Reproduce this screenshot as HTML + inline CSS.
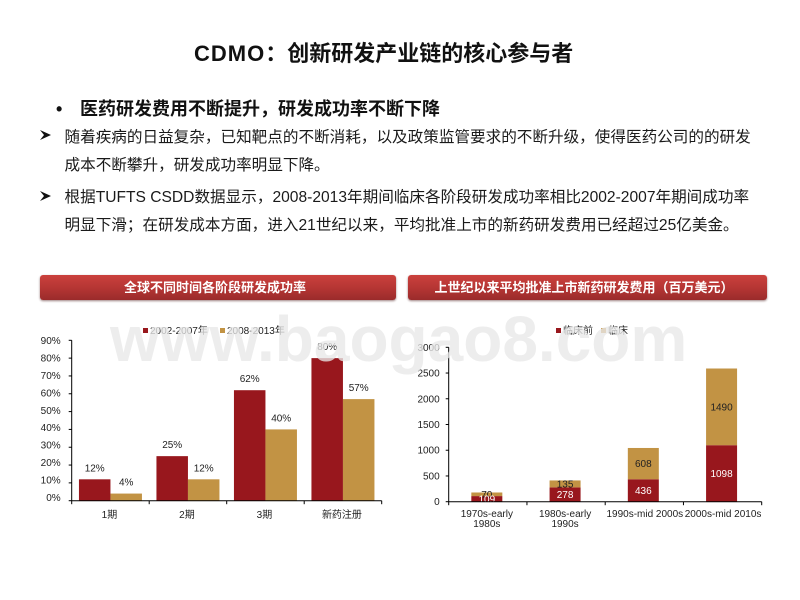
<!DOCTYPE html>
<html lang="zh-CN">
<head>
<meta charset="utf-8">
<title>CDMO：创新研发产业链的核心参与者</title>
<style>
html,body{margin:0;padding:0;background:#fff;}
#slide{position:relative;width:800px;height:600px;overflow:hidden;background:#fff;font-family:"Liberation Sans","Noto Sans CJK SC",sans-serif;color:#111;}
.abs{position:absolute;white-space:nowrap;}
.p{font-family:"Noto Sans CJK TC",sans-serif;line-height:0;}
.title{left:194px;top:38px;font-size:22px;line-height:32px;font-weight:bold;}
.title .en{letter-spacing:1px;}
.head{left:80px;top:96px;font-size:18px;line-height:26px;font-weight:bold;}
.dot{left:56px;top:96px;font-size:18px;line-height:26px;font-weight:bold;}
.body{left:64.5px;font-size:15.6px;line-height:24px;color:#1a1a1a;}
.arrow{left:0;top:0;}
.banner{height:25px;line-height:25px;text-align:center;color:#fff;font-size:13px;font-weight:bold;border-radius:3px;background:linear-gradient(#cb413d,#b63634 50%,#9a2b2b);box-shadow:0 1px 2px #9c8080;top:275px;box-sizing:border-box;}
svg{position:absolute;left:0;top:0;}
svg text{font-family:"Liberation Sans","Noto Sans CJK SC",sans-serif;font-size:10px;fill:#222;}
</style>
</head>
<body>
<div id="slide">
  <div class="abs title"><span class="en">CDMO</span><span class="p">：</span>创新研发产业链的核心参与者</div>
  <div class="abs dot">•</div>
  <div class="abs head">医药研发费用不断提升<span class="p">，</span>研发成功率不断下降</div>
  <svg class="arrow" width="800" height="600" style="position:absolute">
    <polygon points="40,130 51,135 40,140 44,135" fill="#111"/>
    <polygon points="40,191 51,196 40,201 44,196" fill="#111"/>
  </svg>
  <div class="abs body" style="top:126px">随着疾病的日益复杂<span class="p">，</span>已知靶点的不断消耗<span class="p">，</span>以及政策监管要求的不断升级<span class="p">，</span>使得医药公司的的研发</div>
  <div class="abs body" style="top:154px">成本不断攀升<span class="p">，</span>研发成功率明显下降。</div>
  <div class="abs body" style="top:186px">根据TUFTS CSDD数据显示<span class="p">，</span>2008-2013年期间临床各阶段研发成功率相比2002-2007年期间成功率</div>
  <div class="abs body" style="top:214px">明显下滑<span class="p">；</span>在研发成本方面<span class="p">，</span>进入21世纪以来<span class="p">，</span>平均批准上市的新药研发费用已经超过25亿美金。</div>
  <div class="abs banner" style="left:40px;width:356px;padding-right:6px">全球不同时间各阶段研发成功率</div>
  <div class="abs banner" style="left:408px;width:359px;padding-right:7px">上世纪以来平均批准上市新药研发费用<span class="p">（</span>百万美元<span class="p">）</span></div>
  <svg id="charts" width="800" height="600" viewBox="0 0 800 600"></svg>
</div>
<script>
var successCategories = ['1期', '2期', '3期', '新药注册'];
var success2002 = [12, 25, 62, 80];
var success2008 = [4, 12, 40, 57];
var successTicks = [0, 10, 20, 30, 40, 50, 60, 70, 80, 90];
var successLegend = ['2002-2007年', '2008-2013年'];

var costCategories = [['1970s-early', '1980s'], ['1980s-early', '1990s'], ['1990s-mid 2000s'], ['2000s-mid 2010s']];
var costPreclinical = [109, 278, 436, 1098];
var costClinical = [70, 135, 608, 1490];
var costTicks = [0, 500, 1000, 1500, 2000, 2500, 3000];
var costLegend = ['临床前', '临床'];

var RED = '#98171d';
var GOLD = '#c29344';
var svg = document.getElementById('charts');
var NS = 'http://www.w3.org/2000/svg';

function mk(tag, attrs, text) {
  var el = document.createElementNS(NS, tag);
  for (var k in attrs) el.setAttribute(k, attrs[k]);
  if (text !== undefined) el.textContent = text;
  svg.appendChild(el);
  return el;
}
function named(el, name) {
  
  
  return el;
}

/* left chart axes */
var lx0 = 71.7, lx1 = 381.7, ly0 = 500.7, ly1 = 340.3;
var lMax = successTicks[successTicks.length - 1];
function leftY(v) { return ly0 - (v / lMax) * (ly0 - ly1); }
function leftCenter(i) { return lx0 + (lx1 - lx0) / successCategories.length * (i + 0.5); }

/* right chart axes */
var rx0 = 448.7, rx1 = 761.7, ry0 = 501.7, ry1 = 347.3;
var rMax = costTicks[costTicks.length - 1];
function rightY(v) { return ry0 - (v / rMax) * (ry0 - ry1); }
function rightCenter(i) { return rx0 + (rx1 - rx0) / costCategories.length * (i + 0.5) - 1; }

/* left chart marks */
successCategories.forEach(function (c, i) {
  var cx = leftCenter(i), w = 31.5;
  var a = mk('rect', { x: cx - w, y: leftY(success2002[i]), width: w, height: ly0 - leftY(success2002[i]), fill: RED });
  named(a, 'bar-2002-2007-' + (i + 1));
  var b = mk('rect', { x: cx, y: leftY(success2008[i]), width: w, height: ly0 - leftY(success2008[i]), fill: GOLD });
  named(b, 'bar-2008-2013-' + (i + 1));
  var la = mk('text', { x: cx - w / 2, y: leftY(success2002[i]) - 8, 'text-anchor': 'middle' }, success2002[i] + '%');
  named(la, 'value-label-2002-2007-' + (i + 1));
  var lb = mk('text', { x: cx + w / 2, y: leftY(success2008[i]) - 8, 'text-anchor': 'middle' }, success2008[i] + '%');
  named(lb, 'value-label-2008-2013-' + (i + 1));
  var cat = mk('text', { x: cx - 1, y: 518, 'text-anchor': 'middle' }, c);
  named(cat, 'x-axis-label-' + (i + 1));
});
named(mk('line', { x1: lx0, y1: ly1, x2: lx0, y2: ly0, stroke: '#000', 'stroke-width': 1 }), 'left-y-axis');
named(mk('line', { x1: lx0, y1: ly0, x2: lx1, y2: ly0, stroke: '#000', 'stroke-width': 1 }), 'left-x-axis');
successTicks.forEach(function (t) {
  named(mk('line', { x1: lx0 - 3, y1: leftY(t), x2: lx0, y2: leftY(t), stroke: '#000', 'stroke-width': 1 }), 'left-y-tick');
  named(mk('text', { x: lx0 - 11, y: leftY(t) + 3.5 - 3 * (1 - t / lMax), 'text-anchor': 'end' }, t + '%'), 'left-y-tick-label');
});
for (var li = 0; li <= successCategories.length; li++) {
  var ltx = lx0 + (lx1 - lx0) / successCategories.length * li;
  named(mk('line', { x1: ltx, y1: ly0, x2: ltx, y2: ly0 + 3.5, stroke: '#000', 'stroke-width': 1 }), 'left-x-tick');
}
named(mk('rect', { x: 143, y: 328, width: 5, height: 5, fill: RED }), 'legend-swatch-2002-2007');
named(mk('text', { x: 150, y: 334 }, successLegend[0]), 'legend-label-2002-2007');
named(mk('rect', { x: 220, y: 328, width: 5, height: 5, fill: GOLD }), 'legend-swatch-2008-2013');
named(mk('text', { x: 227, y: 334 }, successLegend[1]), 'legend-label-2008-2013');

/* right chart marks */
costCategories.forEach(function (c, i) {
  var cx = rightCenter(i), w = 31;
  var p = costPreclinical[i], q = costClinical[i];
  var a = mk('rect', { x: cx - w / 2, y: rightY(p), width: w, height: ry0 - rightY(p), fill: RED });
  named(a, 'bar-preclinical-' + (i + 1));
  var b = mk('rect', { x: cx - w / 2, y: rightY(p + q), width: w, height: rightY(p) - rightY(p + q), fill: GOLD });
  named(b, 'bar-clinical-' + (i + 1));
  var lq = mk('text', { x: cx, y: (rightY(p) + rightY(p + q)) / 2 + 3.5, 'text-anchor': 'middle' }, q);
  named(lq, 'value-label-clinical-' + (i + 1));
  var lp = mk('text', { x: cx, y: (rightY(0) + rightY(p)) / 2 + 3.5, 'text-anchor': 'middle', style: 'fill:#fff' }, p);
  named(lp, 'value-label-preclinical-' + (i + 1));
  c.forEach(function (line, j) {
    var t = mk('text', { x: cx + (i > 1 ? 1.5 : 0), y: 517 + j * 10, 'text-anchor': 'middle' }, line);
    named(t, 'x-axis-label-' + (i + 1) + '-line-' + (j + 1));
  });
});
named(mk('line', { x1: rx0, y1: ry1, x2: rx0, y2: ry0, stroke: '#000', 'stroke-width': 1 }), 'right-y-axis');
named(mk('line', { x1: rx0, y1: ry0, x2: rx1, y2: ry0, stroke: '#000', 'stroke-width': 1 }), 'right-x-axis');
costTicks.forEach(function (t) {
  named(mk('line', { x1: rx0 - 3, y1: rightY(t), x2: rx0, y2: rightY(t), stroke: '#000', 'stroke-width': 1 }), 'right-y-tick');
  named(mk('text', { x: rx0 - 9, y: rightY(t) + 3.5, 'text-anchor': 'end' }, t), 'right-y-tick-label');
});
for (var ri = 0; ri <= costCategories.length; ri++) {
  var rtx = rx0 + (rx1 - rx0) / costCategories.length * ri;
  named(mk('line', { x1: rtx, y1: ry0, x2: rtx, y2: ry0 + 3.5, stroke: '#000', 'stroke-width': 1 }), 'right-x-tick');
}
named(mk('rect', { x: 556, y: 328, width: 5, height: 5, fill: RED }), 'legend-swatch-preclinical');
named(mk('text', { x: 563, y: 334 }, costLegend[0]), 'legend-label-preclinical');
named(mk('rect', { x: 601, y: 328, width: 5, height: 5, fill: GOLD }), 'legend-swatch-clinical');
named(mk('text', { x: 608, y: 334 }, costLegend[1]), 'legend-label-clinical');

/* watermark overlay */
var wm = mk('text', { x: 110, y: 361, style: 'font-size:64px;font-weight:bold;fill:rgba(232,232,232,0.78);font-family:"Liberation Sans",sans-serif' }, 'www.baogao8.com');
named(wm, 'watermark');
</script>
</body>
</html>
